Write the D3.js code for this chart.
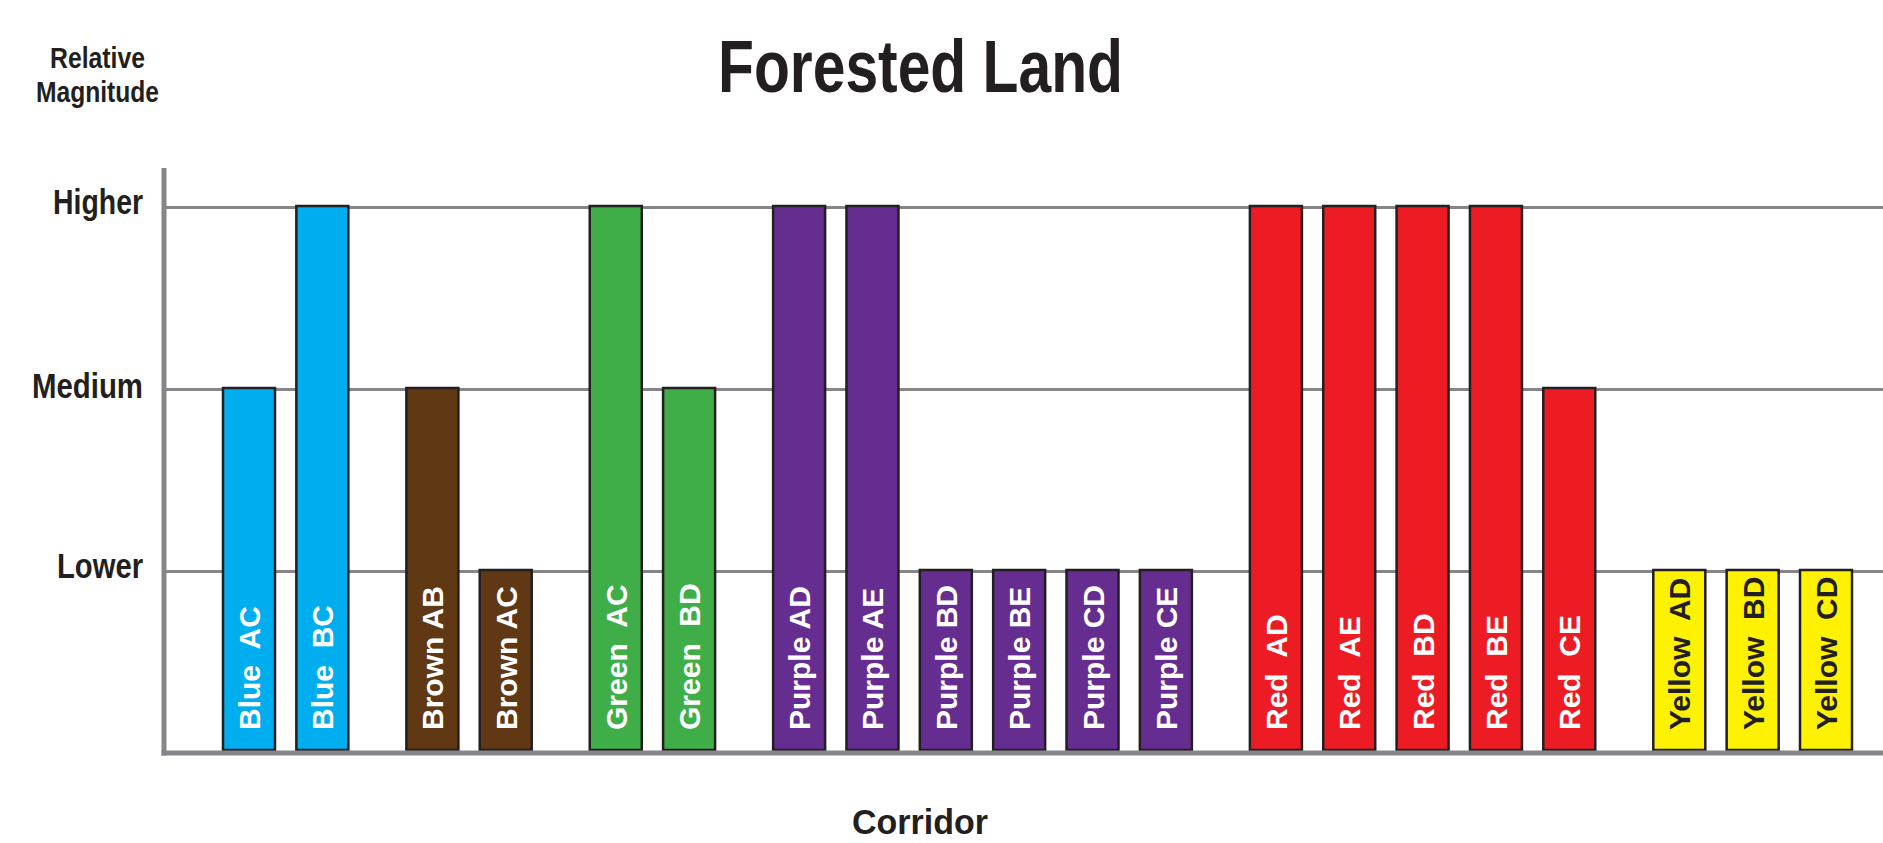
<!DOCTYPE html>
<html>
<head>
<meta charset="utf-8">
<script src="https://cdn.jsdelivr.net/npm/d3@7"></script>
<style>
  body { margin: 0; background: #fff; }
  svg text { white-space: pre; }
</style>
</head>
<body>
<div id="chart"></div>
<script>
// Corridor bars, grouped by colour family
const corridors = ["Blue  AC", "Blue  BC", "Brown AB", "Brown AC", "Green  AC", "Green  BD",
  "Purple AD", "Purple AE", "Purple BD", "Purple BE", "Purple CD", "Purple CE",
  "Red  AD", "Red  AE", "Red  BD", "Red  BE", "Red  CE",
  "Yellow  AD", "Yellow  BD", "Yellow  CD"];
const groups = ["Blue", "Blue", "Brown", "Brown", "Green", "Green",
  "Purple", "Purple", "Purple", "Purple", "Purple", "Purple",
  "Red", "Red", "Red", "Red", "Red",
  "Yellow", "Yellow", "Yellow"];
// 1 = Lower, 2 = Medium, 3 = Higher
const magnitudes = [2, 3, 2, 1, 3, 2, 3, 3, 1, 1, 1, 1, 3, 3, 3, 3, 2, 1, 1, 1];
const levelLabels = ["Lower", "Medium", "Higher"];
const groupColors = {
  Blue: "#00aeef", Brown: "#603813", Green: "#3fae49",
  Purple: "#662d91", Red: "#ed1c24", Yellow: "#fff200"
};

const width = 1883, height = 843;
const axisX = 164;
const barWidth = 52;
const ink = "#231f20";
const gridGray = "#86868a";

const svg = d3.select("#chart").append("svg")
  .attr("width", width)
  .attr("height", height);

// slot index: half a slot of extra space between colour groups
const groupOrder = Array.from(new Set(groups));
const slot = corridors.map((c, i) => i + 0.5 * groupOrder.indexOf(groups[i]));

const x = d3.scaleLinear()
  .domain([0, 21.5])
  .range([223, 1800]);

const y = d3.scaleLinear()
  .domain([0, 3])
  .range([753, 207]);

// gridlines + level labels
const yAxis = d3.axisLeft(y)
  .tickValues([1, 2, 3])
  .tickFormat(d => levelLabels[d - 1])
  .tickSize(-(width - axisX))
  .tickPadding(21);

const gAxis = svg.append("g")
  .attr("transform", `translate(${axisX},0)`)
  .call(yAxis);
gAxis.select(".domain").remove();
gAxis.selectAll(".tick line")
  .attr("stroke", gridGray)
  .attr("stroke-width", 2.8);
const labelLen = { Lower: 86, Medium: 111, Higher: 90 };
gAxis.selectAll(".tick text")
  .attr("fill", ink)
  .attr("font-family", "'Liberation Sans Narrow', 'Liberation Sans', Arial, sans-serif")
  .attr("font-weight", "bold")
  .attr("font-size", 35)
  .attr("dy", null)
  .attr("y", d => d === 2 ? 8 : 6)
  .attr("textLength", d => labelLen[levelLabels[d - 1]])
  .attr("lengthAdjust", "spacingAndGlyphs");

// bars
const bars = svg.append("g");
bars.selectAll("rect")
  .data(corridors)
  .join("rect")
  .attr("x", (d, i) => x(slot[i]))
  .attr("y", (d, i) => y(magnitudes[i]) - 1)
  .attr("width", barWidth)
  .attr("height", (d, i) => y(0) - 3 - y(magnitudes[i]) + 1)
  .attr("fill", (d, i) => groupColors[groups[i]])
  .attr("stroke", ink)
  .attr("stroke-width", 2.5);

// bar labels, rotated
bars.selectAll("text")
  .data(corridors)
  .join("text")
  .attr("transform", (d, i) => `translate(${x(slot[i]) + barWidth / 2 + 11},730) rotate(-90)`)
  .attr("font-family", "'Liberation Sans', Arial, sans-serif")
  .attr("font-weight", "bold")
  .attr("font-size", 30)
  .attr("fill", (d, i) => groups[i] === "Yellow" ? ink : "#ffffff")
  .text(d => d);

// axis line and baseline
svg.append("line")
  .attr("x1", axisX).attr("x2", axisX)
  .attr("y1", 168).attr("y2", y(0) + 2.5)
  .attr("stroke", gridGray)
  .attr("stroke-width", 5);
svg.append("line")
  .attr("x1", axisX - 2.5).attr("x2", width)
  .attr("y1", y(0)).attr("y2", y(0))
  .attr("stroke", gridGray)
  .attr("stroke-width", 5);

// titles
const narrow = "'Liberation Sans Narrow', 'Liberation Sans', Arial, sans-serif";
svg.append("text")
  .attr("x", 920.5).attr("y", 92)
  .attr("text-anchor", "middle")
  .attr("font-family", narrow)
  .attr("font-weight", "bold")
  .attr("font-size", 75)
  .attr("fill", ink)
  .attr("textLength", 405)
  .attr("lengthAdjust", "spacingAndGlyphs")
  .text("Forested Land");

svg.append("text")
  .attr("x", 97.5).attr("y", 68)
  .attr("text-anchor", "middle")
  .attr("font-family", narrow)
  .attr("font-weight", "bold")
  .attr("font-size", 29)
  .attr("fill", ink)
  .attr("textLength", 95)
  .attr("lengthAdjust", "spacingAndGlyphs")
  .text("Relative");
svg.append("text")
  .attr("x", 97.5).attr("y", 102)
  .attr("text-anchor", "middle")
  .attr("font-family", narrow)
  .attr("font-weight", "bold")
  .attr("font-size", 29)
  .attr("fill", ink)
  .attr("textLength", 123)
  .attr("lengthAdjust", "spacingAndGlyphs")
  .text("Magnitude");

svg.append("text")
  .attr("x", 920).attr("y", 834)
  .attr("text-anchor", "middle")
  .attr("font-family", narrow)
  .attr("font-weight", "bold")
  .attr("font-size", 35)
  .attr("fill", ink)
  .attr("textLength", 136)
  .attr("lengthAdjust", "spacingAndGlyphs")
  .text("Corridor");
</script>
</body>
</html>
